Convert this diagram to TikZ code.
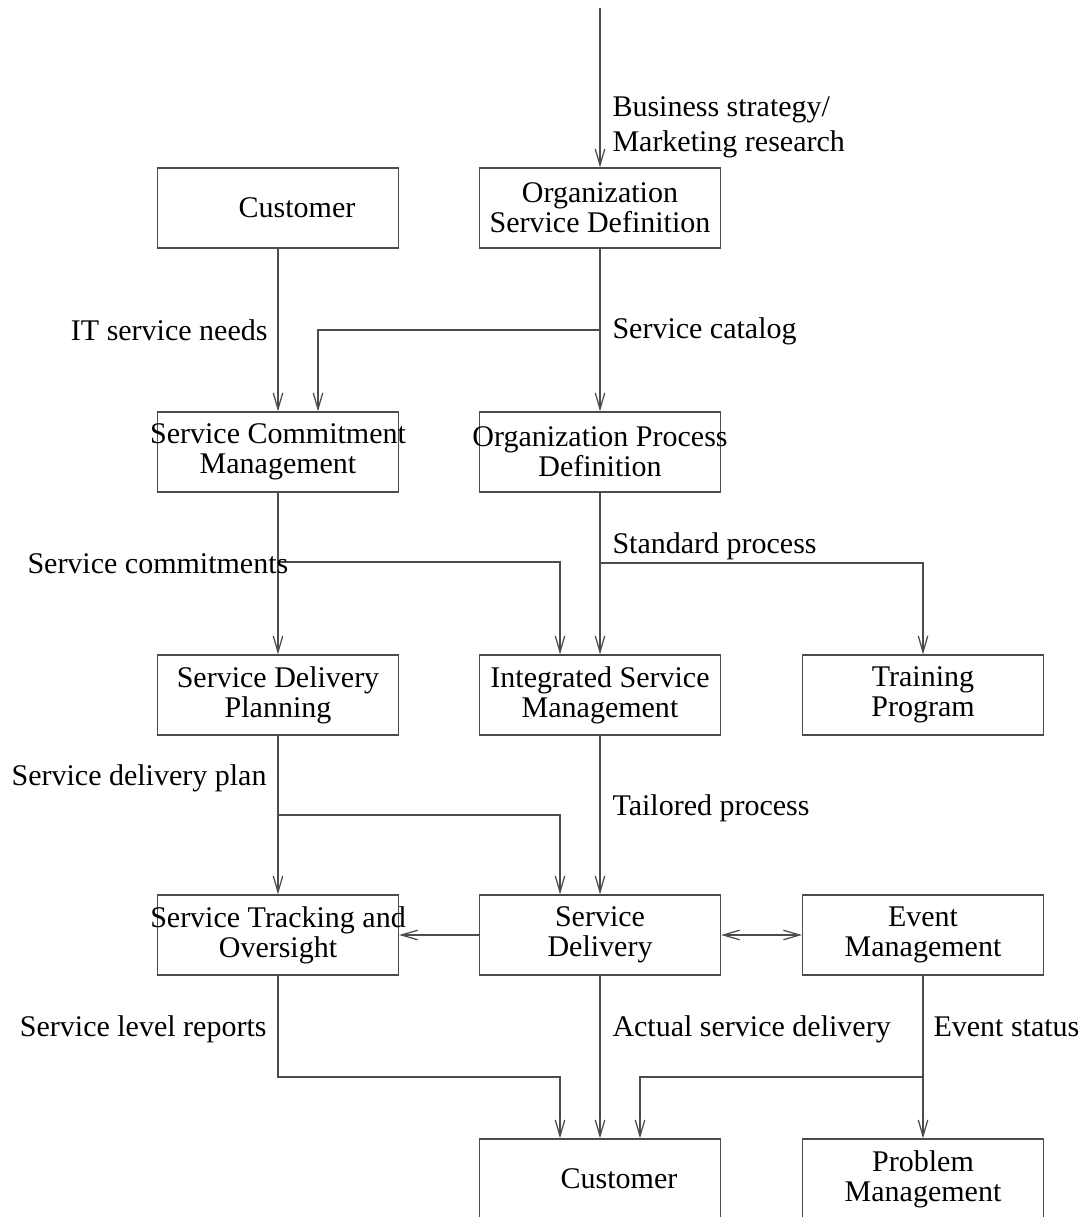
\documentclass[tikz,border=0pt]{standalone}
\usepackage{fontspec}
\setmainfont{Liberation Serif}
\usetikzlibrary{arrows.meta,calc}
\newcommand{\wide}[1]{\makebox[0pt]{#1}}
\begin{document}
\begin{tikzpicture}[x=0.4pt,y=-0.4pt,
  font=\fontsize{12}{14}\selectfont,
  box/.style={draw=black!70,line width=0.5pt,minimum width=96.4pt,minimum height=32pt,inner sep=0pt,align=center,font=\fontsize{12}{12}\selectfont},
  conn/.style={draw=black!70,line width=0.5pt},
  arr/.style={conn,-{Straight Barb[length=6.5pt,width=3.8pt]}},
  darr/.style={conn,{Straight Barb[length=6.5pt,width=3.8pt]}-{Straight Barb[length=6.5pt,width=3.8pt]}},
  lbl/.style={inner sep=0pt}
]
\useasboundingbox (0,0) rectangle (1088,1217);
% boxes
\node[box] (cust) at (278,208) {\hspace*{15.2pt}Customer};
\node[box] (osd) at (600,208) {Organization\\Service Definition};
\node[box] (scm) at (278,452) {\wide{Service Commitment}\\Management};
\node[box] (opd) at (600,452) {\wide{Organization Process}\\Definition};
\node[box] (sdp) at (278,695) {Service Delivery\\Planning};
\node[box] (ism) at (600,695) {Integrated Service\\Management};
\node[box] (tp) at (923,695) {Training\\Program};
\node[box] (sto) at (278,935) {\wide{Service Tracking and}\\Oversight};
\node[box] (sd) at (600,935) {Service\\Delivery};
\node[box] (em) at (923,935) {Event\\Management};
\node[box] (cust2) at (600,1179) {\hspace*{15.2pt}Customer};
\node[box] (pm) at (923,1179) {Problem\\Management};
% coordinates
\coordinate (top) at (600,8);
\coordinate (sc) at (600,330);
\coordinate (cm) at (278,562);
\coordinate (sp) at (600,563);
\coordinate (dp) at (278,815);
\coordinate (k1) at (560,1077);
\coordinate (es) at (923,1077);
% connectors
\draw[arr] (top) -- (osd.north);
\draw[arr] (cust.south) -- (scm.north);
\draw[arr] (osd.south) -- (opd.north);
\draw[arr] (sc) -| ($(scm.north)+(40,0)$);
\draw[arr] (scm.south) -- (sdp.north);
\draw[arr] (cm) -| ($(ism.north)+(-40,0)$);
\draw[arr] (opd.south) -- (ism.north);
\draw[arr] (sp) -| (tp.north);
\draw[arr] (sdp.south) -- (sto.north);
\draw[arr] (dp) -| ($(sd.north)+(-40,0)$);
\draw[arr] (ism.south) -- (sd.north);
\draw[arr] (sd.west) -- (sto.east);
\draw[darr] (sd.east) -- (em.west);
\draw[arr] (sto.south) |- (k1) -- ($(cust2.north)+(-40,0)$);
\draw[arr] (sd.south) -- (cust2.north);
\draw[arr] (em.south) -- (pm.north);
\draw[arr] (es) -| ($(cust2.north)+(40,0)$);
% labels
\node[lbl,anchor=west,align=left] (l1) at (612,127) {Business strategy/\\Marketing research};
\node[lbl,anchor=base east] (l2) at (268,341) {IT service needs};
\node[lbl,anchor=base west] (l3) at (612,339) {Service catalog};
\node[lbl,anchor=base west] (l4) at (27,573) {Service commitments};
\node[lbl,anchor=base west] (l5) at (612,553) {Standard process};
\node[lbl,anchor=base east] (l6) at (267,785) {Service delivery plan};
\node[lbl,anchor=base west] (l7) at (612,815) {Tailored process};
\node[lbl,anchor=base east] (l8) at (267,1036) {Service level reports};
\node[lbl,anchor=base west] (l9) at (612,1036) {Actual service delivery};
\node[lbl,anchor=base west] (l10) at (933,1036) {Event status};
\end{tikzpicture}
\end{document}
